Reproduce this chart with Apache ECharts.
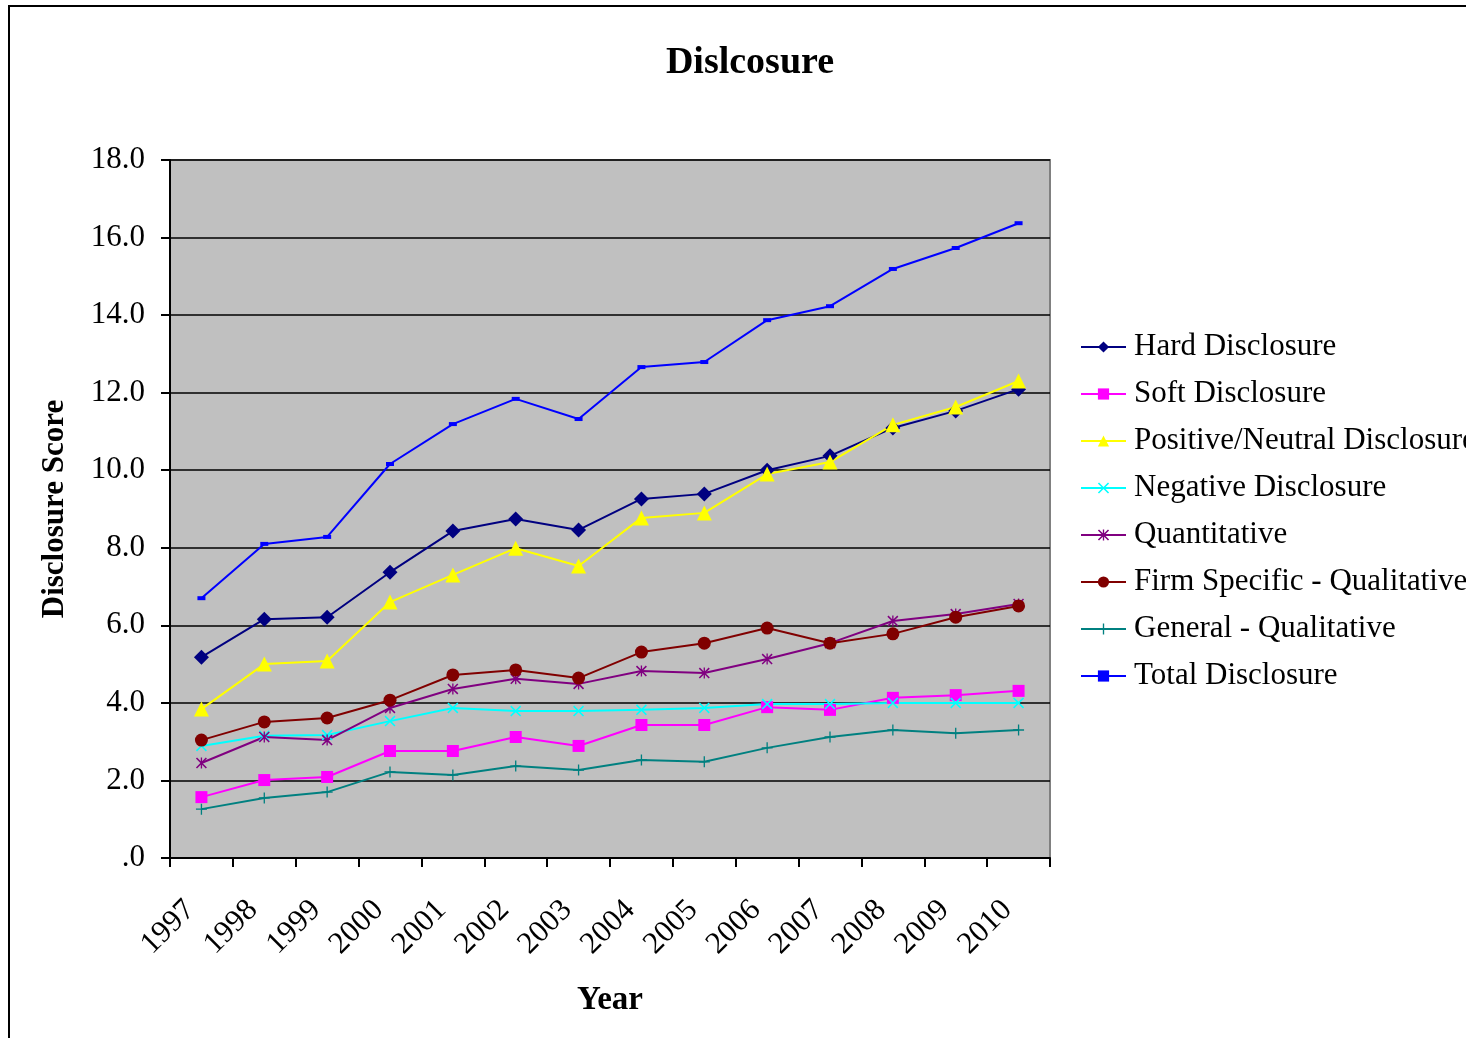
<!DOCTYPE html>
<html>
<head>
<meta charset="utf-8">
<title>Dislcosure</title>
<script src="https://cdn.jsdelivr.net/npm/echarts@6/dist/echarts.min.js"></script>
<style>
  html, body { margin: 0; padding: 0; background: #fff; }
  #chart { width: 1466px; height: 1038px; }
</style>
</head>
<body>
<div id="chart"></div>
<script>
// Years on the category axis
const years = ['1997','1998','1999','2000','2001','2002','2003','2004','2005','2006','2007','2008','2009','2010'];

// Mean disclosure scores per year
const hardDisclosure     = [5.18, 6.16, 6.21, 7.37, 8.43, 8.74, 8.46, 9.26, 9.39, 10.00, 10.37, 11.09, 11.53, 12.09];
const softDisclosure     = [1.57, 2.01, 2.09, 2.76, 2.76, 3.12, 2.89, 3.43, 3.43, 3.89, 3.82, 4.13, 4.20, 4.31];
const positiveNeutral    = [3.84, 5.00, 5.08, 6.60, 7.30, 7.99, 7.53, 8.77, 8.90, 9.90, 10.21, 11.17, 11.63, 12.30];
const negativeDisclosure = [2.89, 3.15, 3.17, 3.53, 3.87, 3.79, 3.79, 3.82, 3.87, 3.97, 3.97, 4.00, 4.00, 4.00];
const quantitative       = [2.45, 3.12, 3.04, 3.87, 4.36, 4.62, 4.49, 4.82, 4.77, 5.13, 5.54, 6.11, 6.29, 6.55];
const firmSpecificQual   = [3.04, 3.51, 3.61, 4.07, 4.72, 4.85, 4.64, 5.31, 5.54, 5.93, 5.54, 5.78, 6.21, 6.50];
const generalQual        = [1.26, 1.55, 1.70, 2.22, 2.14, 2.37, 2.27, 2.53, 2.48, 2.84, 3.12, 3.30, 3.22, 3.30];
const totalDisclosure    = [6.70, 8.10, 8.28, 10.16, 11.19, 11.84, 11.32, 12.66, 12.79, 13.87, 14.23, 15.19, 15.73, 16.37];

// Value axis range
const yMin = 0, yMax = 18, yStep = 2;

// Marker shapes drawn as filled outlines
const crossX   = 'path://M0,1 L1,0 L5,4 L9,0 L10,1 L6,5 L10,9 L9,10 L5,6 L1,10 L0,9 L4,5 Z';
const asterisk = 'path://M0,1 L1,0 L4.4,3.4 L4.4,0 L5.6,0 L5.6,3.4 L9,0 L10,1 L6.2,4.8 L6.2,5.2 L10,9 L9,10 L5.6,6.6 L5.6,10 L4.4,10 L4.4,6.6 L1,10 L0,9 L3.8,5.2 L3.8,4.8 Z';
const plusMark = 'path://M4.4,0 L5.6,0 L5.6,4.4 L10,4.4 L10,5.6 L5.6,5.6 L5.6,10 L4.4,10 L4.4,5.6 L0,5.6 L0,4.4 L4.4,4.4 Z';

const serif = '"Liberation Serif", "Times New Roman", serif';

function lineSeries(name, data, color, symbol, size) {
  return {
    name: name,
    type: 'line',
    data: data,
    symbol: symbol,
    symbolSize: size,
    showAllSymbol: true,
    lineStyle: { color: color, width: 2 },
    itemStyle: { color: color, borderWidth: 0 },
    emphasis: { disabled: true },
    animation: false
  };
}

const chart = echarts.init(document.getElementById('chart'), null, { renderer: 'canvas' });

chart.setOption({
  backgroundColor: '#ffffff',
  animation: false,
  title: {
    text: 'Dislcosure',
    left: 745,
    top: 39,
    textAlign: 'center',
    textStyle: { fontFamily: serif, fontWeight: 'bold', fontSize: 38, color: '#000' }
  },
  graphic: [{
    type: 'rect',
    shape: { x: 9, y: 6, width: 1600, height: 1200 },
    style: { fill: 'none', stroke: '#000', lineWidth: 2 },
    silent: true,
    z: 0
  }],
  grid: {
    left: 170, top: 160, right: 416, bottom: 180,
    show: true,
    backgroundColor: '#C0C0C0',
    borderColor: '#808080',
    borderWidth: 2
  },
  legend: {
    orient: 'vertical',
    left: 1080,
    top: 331,
    padding: 0,
    itemWidth: 45,
    itemHeight: 14,
    itemGap: 15,
    textStyle: { fontFamily: serif, fontSize: 31, color: '#000', lineHeight: 32, padding: [0, 0, 0, 3] },
    data: ['Hard Disclosure','Soft Disclosure','Positive/Neutral Disclosure','Negative Disclosure',
           'Quantitative','Firm Specific - Qualitative','General - Qualitative','Total Disclosure']
  },
  xAxis: {
    type: 'category',
    data: years,
    boundaryGap: true,
    name: 'Year',
    nameLocation: 'middle',
    nameGap: 126,
    nameTextStyle: { fontFamily: serif, fontWeight: 'bold', fontSize: 33, color: '#000' },
    axisLine: { lineStyle: { color: '#000', width: 2 } },
    axisTick: { show: true, alignWithLabel: false, length: 9, lineStyle: { color: '#000', width: 2 } },
    axisLabel: {
      rotate: 45, margin: 36, interval: 0, fontFamily: serif, fontSize: 31, color: '#000',
      padding: [0, 16, 0, 0]
    },
    splitLine: { show: false }
  },
  yAxis: {
    type: 'value',
    min: yMin, max: yMax, interval: yStep,
    name: 'Disclosure Score',
    nameLocation: 'middle',
    nameGap: 100,
    nameRotate: 90,
    nameTextStyle: { fontFamily: serif, fontWeight: 'bold', fontSize: 31, color: '#000' },
    axisLine: { show: true, lineStyle: { color: '#000', width: 2 } },
    axisTick: { show: true, length: 9, lineStyle: { color: '#000', width: 2 } },
    axisLabel: {
      margin: 25, fontFamily: serif, fontSize: 31, color: '#000',
      formatter: function (v) { const s = v.toFixed(1); return v === 0 ? s.replace(/^0/, '') : s; }
    },
    splitLine: { show: true, lineStyle: { color: '#000', width: 1.6 } }
  },
  series: [
    lineSeries('Hard Disclosure', hardDisclosure, '#000080', 'diamond', 15),
    lineSeries('Soft Disclosure', softDisclosure, '#FF00FF', 'rect', 12),
    lineSeries('Positive/Neutral Disclosure', positiveNeutral, '#FFFF00', 'triangle', 15),
    lineSeries('Negative Disclosure', negativeDisclosure, '#00FFFF', crossX, 11),
    lineSeries('Quantitative', quantitative, '#800080', asterisk, 11),
    lineSeries('Firm Specific - Qualitative', firmSpecificQual, '#800000', 'circle', 13),
    lineSeries('General - Qualitative', generalQual, '#008080', plusMark, 11),
    lineSeries('Total Disclosure', totalDisclosure, '#0000FF', 'rect', [8, 4])
  ]
});
</script>
</body>
</html>
